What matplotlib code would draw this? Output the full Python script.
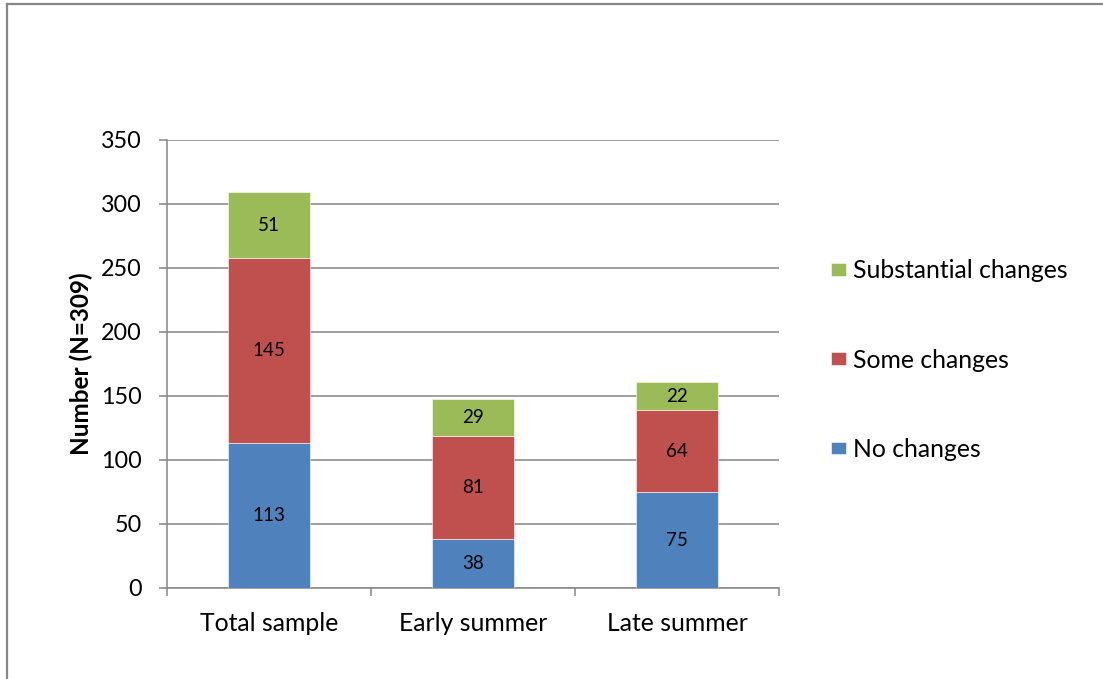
import matplotlib
matplotlib.use("Agg")
import matplotlib.pyplot as plt
from matplotlib.lines import Line2D
import numpy as np

plt.rcParams['font.family'] = ['Lato', 'DejaVu Sans']

categories = ["Total sample", "Early summer", "Late summer"]
no_changes = [113, 38, 75]
some_changes = [145, 81, 64]
substantial_changes = [51, 29, 22]
series_names = ["No changes", "Some changes", "Substantial changes"]
colors = ["#4F81BD", "#C0504D", "#9BBB59"]
y_ticks = [0, 50, 100, 150, 200, 250, 300, 350]

W, H = 1103, 679
fig = plt.figure(figsize=(W / 100, H / 100), dpi=100)
ax = fig.add_axes([167 / W, 1 - 588 / H, (779 - 167) / W, (588 - 140) / H])

grid_color = "#868686"
x = np.arange(len(categories))
bottom = np.zeros(len(categories))
handles = []
for name, vals, col in zip(series_names, [no_changes, some_changes, substantial_changes], colors):
    vals = np.array(vals, dtype=float)
    bars = ax.bar(x, vals, width=0.4, bottom=bottom, color=col,
                  edgecolor="white", linewidth=0.4, label=name, zorder=3)
    handles.append(bars)
    for xi, b, v in zip(x, bottom, vals):
        ax.text(xi, b + v / 2, f"{int(v)}", ha="center", va="center",
                fontsize=13.5, color="black", zorder=4)
    bottom += vals

ax.set_xlim(-0.5, len(categories) - 0.5)
ax.set_ylim(0, 350)
ax.set_yticks(y_ticks)
ax.yaxis.grid(True, color=grid_color, linewidth=1.1, zorder=0)
ax.set_axisbelow(True)

# category boundaries carry the tick marks; labels sit at the centres
ax.set_xticks(np.arange(-0.5, len(categories), 1.0))
ax.set_xticklabels([])
ax.set_xticks(x, minor=True)
ax.set_xticklabels(categories, minor=True, fontsize=17.8)
ax.tick_params(axis="x", which="major", direction="out", length=6, width=1.1, color=grid_color)
ax.tick_params(axis="x", which="minor", length=0, pad=17)
ax.tick_params(axis="y", direction="out", length=6, width=1.1, color=grid_color,
               labelsize=16.8, pad=12)

for side in ["top", "right"]:
    ax.spines[side].set_visible(False)
for side in ["left", "bottom"]:
    ax.spines[side].set_color(grid_color)
    ax.spines[side].set_linewidth(1.1)

ax.set_ylabel("Number (N=309)", fontsize=17.5, fontweight="bold", labelpad=6)

fig.legend(handles[::-1], series_names[::-1], loc="center left",
           bbox_to_anchor=(831 / W, 1 - 360 / H), frameon=False,
           fontsize=17.8, handlelength=0.6, handleheight=0.42,
           handletextpad=0.28, labelspacing=2.68, borderpad=0, borderaxespad=0)

# outer chart border (left and top edges)
fig.add_artist(Line2D([7 / W, 7 / W], [0, 1 - 4 / H], color="#888888", linewidth=1.6,
                      transform=fig.transFigure))
fig.add_artist(Line2D([7 / W, 1], [1 - 4 / H, 1 - 4 / H], color="#888888", linewidth=1.6,
                      transform=fig.transFigure))

fig.savefig("out.png", dpi=100)
